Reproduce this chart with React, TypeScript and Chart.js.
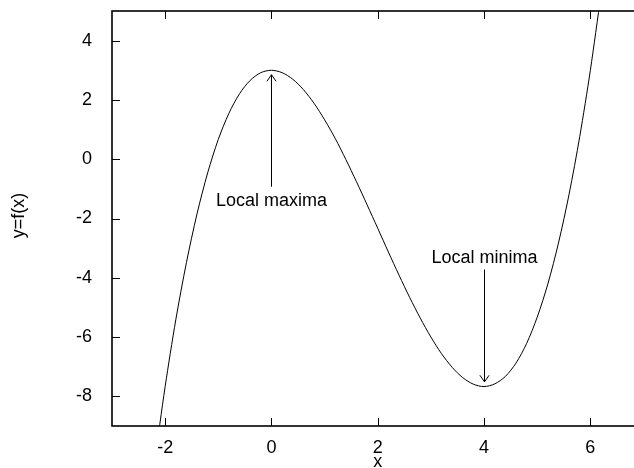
import React, { useEffect, useRef } from "react";
import { Chart, registerables } from "chart.js";

Chart.register(...registerables);

// Curve samples
const xValues = [
  -2.2, -2.0, -1.8, -1.6, -1.4, -1.2, -1.0, -0.8, -0.6, -0.4, -0.2, 0.0,
  0.2, 0.4, 0.6, 0.8, 1.0, 1.2, 1.4, 1.6, 1.8, 2.0, 2.2, 2.4, 2.6, 2.8,
  3.0, 3.2, 3.4, 3.6, 3.8, 4.0, 4.2, 4.4, 4.6, 4.8, 5.0, 5.2, 5.4, 5.6,
  5.8, 6.0, 6.2,
];
const yValues = [
  -10.23, -7.67, -5.42, -3.49, -1.84, -0.46, 0.67, 1.55, 2.21, 2.66, 2.92, 3.0,
  2.92, 2.7, 2.35, 1.89, 1.33, 0.7, -0.01, -0.76, -1.54, -2.33, -3.13, -3.91, -4.66, -5.36,
  -6.0, -6.56, -7.02, -7.37, -7.59, -7.67, -7.58, -7.33, -6.88, -6.22, -5.33, -4.21, -2.83, -1.18,
  0.76, 3.0, 5.56,
];

const xTicks = [-2, 0, 2, 4, 6];
const yTicks = [-8, -6, -4, -2, 0, 2, 4];
const xRange = [-3, 7];
const yRange = [-9, 5];
const xTitle = "x";
const yTitle = "y=f(x)";

const annotationLabels = ["Local maxima", "Local minima"];
const annotationX = [0, 4];
const annotationLabelY = [-1.41, -3.34];
const arrowFromY = [-0.93, -3.72];
const arrowToY = [2.85, -7.51];

const FONT_FAMILY = "'Liberation Sans', Arial, Helvetica, sans-serif";
const FONT_SIZE = 18;

const framePlugin = {
  id: "framePlugin",
  afterDraw(chart: any) {
    const ctx = chart.ctx as CanvasRenderingContext2D;
    const area = chart.chartArea;
    const xs = chart.scales.x;
    const ys = chart.scales.y;
    ctx.save();
    ctx.strokeStyle = "#000";
    ctx.fillStyle = "#000";

    // border
    ctx.lineWidth = 1.6;
    ctx.strokeRect(area.left, area.top, area.right - area.left, area.bottom - area.top);

    // inward ticks
    ctx.lineWidth = 1;
    const tl = 8;
    ctx.beginPath();
    for (const v of xTicks) {
      const px = Math.round(xs.getPixelForValue(v)) + 0.5;
      ctx.moveTo(px, area.bottom);
      ctx.lineTo(px, area.bottom - tl);
      ctx.moveTo(px, area.top);
      ctx.lineTo(px, area.top + tl);
    }
    for (const v of yTicks) {
      const py = Math.round(ys.getPixelForValue(v)) + 0.5;
      ctx.moveTo(area.left, py);
      ctx.lineTo(area.left + tl, py);
      ctx.moveTo(area.right, py);
      ctx.lineTo(area.right - tl, py);
    }
    ctx.stroke();

    // annotations
    ctx.font = `${FONT_SIZE}px ${FONT_FAMILY}`;
    ctx.textAlign = "center";
    ctx.textBaseline = "middle";
    for (let i = 0; i < annotationLabels.length; i++) {
      const px = Math.round(xs.getPixelForValue(annotationX[i])) + 0.5;
      ctx.fillText(annotationLabels[i], px, ys.getPixelForValue(annotationLabelY[i]));
      const y0 = ys.getPixelForValue(arrowFromY[i]);
      const y1 = ys.getPixelForValue(arrowToY[i]);
      const dir = y1 < y0 ? 1 : -1;
      const hl = 8;
      const ang = (35 * Math.PI) / 180;
      ctx.beginPath();
      ctx.moveTo(px, y0);
      ctx.lineTo(px, y1);
      ctx.moveTo(px - hl * Math.sin(ang), y1 + dir * hl * Math.cos(ang));
      ctx.lineTo(px, y1);
      ctx.lineTo(px + hl * Math.sin(ang), y1 + dir * hl * Math.cos(ang));
      ctx.stroke();
    }

    // axis titles
    ctx.textAlign = "center";
    ctx.textBaseline = "alphabetic";
    ctx.fillText(xTitle, (area.left + area.right) / 2, 466.5);
    ctx.save();
    ctx.translate(19, 215.5);
    ctx.rotate(-Math.PI / 2);
    ctx.textBaseline = "middle";
    ctx.fillText(yTitle, 0, 0);
    ctx.restore();

    ctx.restore();
  },
};

export default function App() {
  const canvasRef = useRef<HTMLCanvasElement | null>(null);

  useEffect(() => {
    const canvas = canvasRef.current;
    if (!canvas) return;
    const points = xValues.map((x, i) => ({ x, y: yValues[i] }));
    const chart = new Chart(canvas, {
      type: "scatter",
      data: {
        datasets: [
          {
            data: points,
            showLine: true,
            borderColor: "#000",
            borderWidth: 1,
            pointRadius: 0,
            tension: 0.3,
            clip: 0,
          } as any,
        ],
      },
      options: {
        responsive: false,
        animation: false,
        devicePixelRatio: 1,
        layout: { padding: { top: 11, left: 0, right: 16.5, bottom: 0 } },
        plugins: {
          legend: { display: false },
          tooltip: { enabled: false },
        },
        scales: {
          x: {
            type: "linear",
            min: xRange[0],
            max: xRange[1],
            grid: { display: false },
            border: { display: false },
            afterBuildTicks: (scale: any) => {
              scale.ticks = xTicks.map((v) => ({ value: v }));
            },
            afterFit: (scale: any) => {
              scale.height = 42;
              scale.paddingLeft = 0;
              scale.paddingRight = 0;
            },
            ticks: {
              color: "#000",
              padding: 3,
              maxRotation: 0,
              font: { family: FONT_FAMILY, size: FONT_SIZE },
              callback: (v: any) => String(v),
            },
          },
          y: {
            type: "linear",
            min: yRange[0],
            max: yRange[1],
            grid: { display: false },
            border: { display: false },
            afterBuildTicks: (scale: any) => {
              scale.ticks = yTicks.map((v) => ({ value: v }));
            },
            afterFit: (scale: any) => {
              scale.width = 112;
              scale.paddingTop = 0;
              scale.paddingBottom = 0;
            },
            ticks: {
              color: "#000",
              padding: 12,
              font: { family: FONT_FAMILY, size: FONT_SIZE },
              callback: (v: any) => String(v),
            },
          },
        },
      },
      plugins: [framePlugin],
    });
    return () => chart.destroy();
  }, []);

  return (
    <div
      style={{
        position: "fixed",
        left: 0,
        top: 0,
        width: 634,
        height: 468,
        overflow: "hidden",
        background: "#fff",
      }}
    >
      <canvas ref={canvasRef} width={660} height={468} style={{ display: "block" }} />
    </div>
  );
}
